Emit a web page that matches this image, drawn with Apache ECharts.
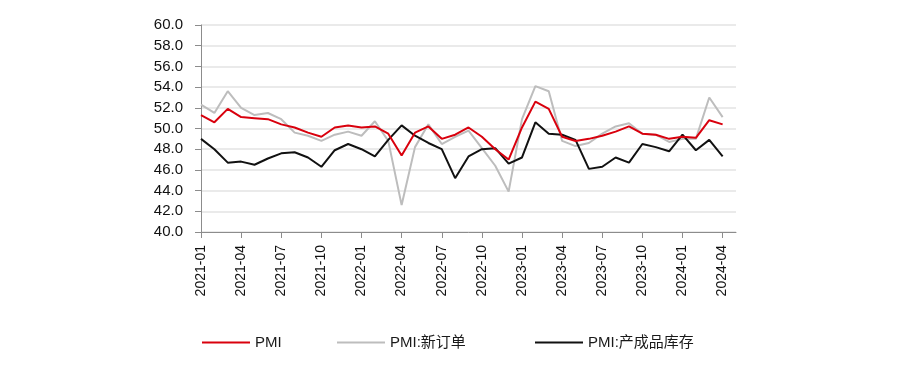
<!DOCTYPE html>
<html><head><meta charset="utf-8">
<script src="https://cdn.jsdelivr.net/npm/echarts@6/dist/echarts.min.js"></script>
<style>html,body{margin:0;padding:0;background:#fff}#c{width:900px;height:373px}</style>
</head><body><div id="c"></div>
<script>
const months = ["2021-01","2021-02","2021-03","2021-04","2021-05","2021-06","2021-07","2021-08","2021-09","2021-10","2021-11","2021-12",
"2022-01","2022-02","2022-03","2022-04","2022-05","2022-06","2022-07","2022-08","2022-09","2022-10","2022-11","2022-12",
"2023-01","2023-02","2023-03","2023-04","2023-05","2023-06","2023-07","2023-08","2023-09","2023-10","2023-11","2023-12",
"2024-01","2024-02","2024-03","2024-04","2024-05"];
const pmi = [51.3,50.6,51.9,51.1,51.0,50.9,50.4,50.1,49.6,49.2,50.1,50.3,
50.1,50.2,49.5,47.4,49.6,50.2,49.0,49.4,50.1,49.2,48.0,47.0,
50.1,52.6,51.9,49.2,48.8,49.0,49.3,49.7,50.2,49.5,49.4,49.0,
49.2,49.1,50.8,50.4,null];
const newOrders = [52.3,51.5,53.6,52.0,51.3,51.5,50.9,49.6,49.3,48.8,49.4,49.7,
49.3,50.7,48.8,42.6,48.2,50.4,48.5,49.2,49.8,48.1,46.4,43.9,
50.9,54.1,53.6,48.8,48.3,48.6,49.5,50.2,50.5,49.5,49.4,48.7,
49.0,49.0,53.0,51.1,null];
const inventory = [49.0,48.0,46.7,46.8,46.5,47.1,47.6,47.7,47.2,46.3,47.9,48.5,
48.0,47.3,48.9,50.3,49.3,48.6,48.0,45.2,47.3,48.0,48.1,46.6,
47.2,50.6,49.5,49.4,48.9,46.1,46.3,47.2,46.7,48.5,48.2,47.8,
49.4,47.9,48.9,47.3,null];
const seriesNames = ["PMI","PMI:新订单","PMI:产成品库存"];
const colors = ["#d9000d","#bdbdbd","#111111"];

const chart = echarts.init(document.getElementById('c'));
const font = "'Liberation Sans', Arial, 'Noto Sans CJK SC', sans-serif";
const legendPos = [202, 337, 535];
chart.setOption({
  animation:false,
  grid:{left:201,right:164,top:25,bottom:141},
  legend: seriesNames.map((n,i)=>({
    data:[n], left:legendPos[i], top:335, padding:0, itemWidth:48, itemHeight:2, itemGap:0,
    icon:'rect',
    textStyle:{fontFamily:font,fontSize:15,color:'#1a1a1a'}
  })),
  xAxis:{
    type:'category', data:months, boundaryGap:false,
    axisLine:{lineStyle:{color:'#8c8c8c',width:1}},
    axisTick:{show:true,interval:2,length:6,lineStyle:{color:'#8c8c8c'}},
    axisLabel:{interval:2,rotate:90,fontFamily:font,fontSize:14,color:'#111',margin:13,
      formatter:(v,i)=> i<40 ? v : ''},
    splitLine:{show:false}
  },
  yAxis:{
    type:'value', min:40, max:60, interval:2,
    axisLine:{show:true,lineStyle:{color:'#8c8c8c'}},
    axisTick:{show:true,length:6,lineStyle:{color:'#8c8c8c'}},
    axisLabel:{fontFamily:font,fontSize:15,color:'#111',margin:18,formatter:v=>v.toFixed(1)},
    splitLine:{lineStyle:{color:'#e3e3e3',width:1.5}}
  },
  series:[pmi,newOrders,inventory].map((d,i)=>({
    name:seriesNames[i], type:'line', data:d, symbol:'none', z: i===0?5:(i===2?4:3),
    lineStyle:{color:colors[i],width:2}, itemStyle:{color:colors[i]}
  }))
});
</script></body></html>
